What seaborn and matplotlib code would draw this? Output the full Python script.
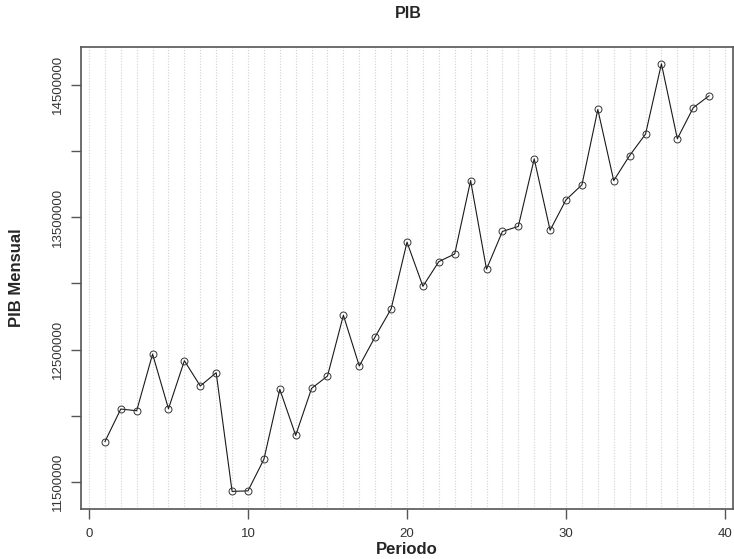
import matplotlib
matplotlib.use("Agg")
import matplotlib.pyplot as plt
import seaborn as sns
import numpy as np
import pandas as pd

periodo = list(range(1, 40))
pib = [11.805, 12.052, 12.039, 12.467, 12.054, 12.417, 12.226, 12.326, 11.430, 11.434,
       11.672, 12.201, 11.853, 12.208, 12.301, 12.760, 12.377, 12.598, 12.808, 13.312,
       12.979, 13.165, 13.223, 13.777, 13.108, 13.393, 13.431, 13.941, 13.402, 13.632,
       13.745, 14.314, 13.777, 13.966, 14.128, 14.659, 14.093, 14.327, 14.418]
pib = [v * 1e6 for v in pib]
y_ticks = [11500000, 12000000, 12500000, 13000000, 13500000, 14000000, 14500000]
y_labels = ["11500000", "", "12500000", "", "13500000", "", "14500000"]
x_ticks = [0, 10, 20, 30, 40]
grid_x = list(range(0, 41))

df = pd.DataFrame({"Periodo": periodo, "PIB": pib})

sns.set_style("white")
plt.rcParams["font.family"] = ["Liberation Sans", "DejaVu Sans"]

W, H = 734, 559
fig = plt.figure(figsize=(W / 100, H / 100), dpi=100)
ax = fig.add_axes([80.7 / W, 1 - 508.5 / H, (733.3 - 80.7) / W, (508.5 - 46.7) / H])

for gx in grid_x:
    ax.axvline(gx, color="#d3d3d3", linestyle=(0, (1.0, 1.5)), linewidth=0.8, zorder=0)

sns.lineplot(data=df, x="Periodo", y="PIB", ax=ax, color="#1a1a1a", linewidth=0.8,
             marker="o", markersize=5.0, markerfacecolor="none",
             markeredgecolor="#333333", markeredgewidth=0.7)

ax.set_xlim(-0.52, 40.52)
ymin, ymax = min(pib), max(pib)
r = ymax - ymin
ax.set_ylim(ymin - 0.04 * r, ymax + 0.04 * r)
ax.set_xticks(x_ticks)
ax.set_xticklabels([str(t) for t in x_ticks], fontsize=9.5, color="#333333")
ax.set_yticks(y_ticks)
ax.set_yticklabels(y_labels, fontsize=9.5, color="#333333", rotation=90, va="center")
ax.tick_params(axis="both", direction="out", length=7, width=1.0, color="#555555",
               bottom=True, left=True)
ax.tick_params(axis="x", pad=7)
ax.tick_params(axis="y", pad=5)
for s in ax.spines.values():
    s.set_color("#555555")
    s.set_linewidth(1.2)

ax.set_xlabel("Periodo", fontsize=12, fontweight="bold", labelpad=0)
ax.set_ylabel("PIB Mensual", fontsize=12, fontweight="bold", labelpad=10)
ax.xaxis.set_label_coords(0.5, -(549 - 508.5) / (508.5 - 46.7), transform=ax.transAxes)
ax.xaxis.label.set_va("center")
ax.yaxis.set_label_coords(-(80.7 - 17) / (733.3 - 80.7), 0.5)
ax.yaxis.label.set_va("center")
fig.text(408 / W, 1 - 13 / H, "PIB", ha="center", va="center", fontsize=11.5, fontweight="bold")

fig.savefig("out.png", dpi=100)
